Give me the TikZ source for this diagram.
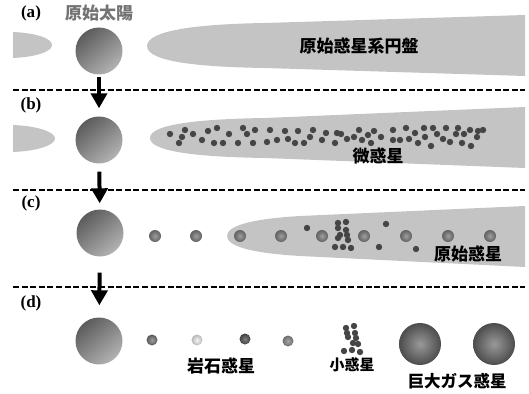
\documentclass[tikz,border=0pt]{standalone}
\usepackage{fontspec}
\setmainfont{Liberation Serif}
\newfontfamily\jp{Noto Sans CJK JP}
\usetikzlibrary{arrows.meta,shadings}

\begin{document}
\begin{tikzpicture}[
    x=1pt, y=-1pt,
    every node/.style={inner sep=0pt},
    stage/.style={font=\fontsize{17}{17}\selectfont\bfseries},
    jlabel/.style={font=\jp\fontsize{17}{17}\selectfont\bfseries},
    sun/.style={circle, minimum size=47pt, top color=black!64, bottom color=black!30, shading angle=40},
    disk/.style={fill=black!23},
    dot/.style={fill=black!73},
    planet/.style={inner color=black!38, outer color=black!62},
    giant/.style={inner color=black!40, outer color=black!70},
    sep/.style={line width=1.6pt, dash pattern=on 6pt off 2.6pt},
    arrow/.style={-{Triangle[length=15pt,width=16pt]}, line width=4pt},
]
\useasboundingbox (0,0) rectangle (529,393);

% (a) proto-sun and disk
\node[stage] (la) at (31,13) {(a)};
\node[jlabel, text=black!55] (protosun) at (99,13) {原始太陽};
\fill[disk] (13,32) .. controls (35,33) and (52,38) .. (52,45) .. controls (52,52) and (35,57) .. (13,58) -- cycle;
\fill[disk] (147,46) .. controls (147,30) and (200,24) .. (265,23) -- (525,15) -- (525,76) -- (265,68) .. controls (200,67) and (147,62) .. cycle;
\node[sun] (sunA) at (99,51) {};
\node[jlabel] (diskA) at (359,46) {原始惑星系円盤};
\draw[sep] (13,90) -- (525,90);

% (b) planetesimals
\node[stage] (lb) at (31,105) {(b)};
\fill[disk] (13,125) .. controls (38,126) and (55,132) .. (55,138.5) .. controls (55,145) and (38,151) .. (13,152) -- cycle;
\fill[disk] (150,138) .. controls (150,124) and (200,119) .. (265,118) -- (525,107) -- (525,168) -- (265,158) .. controls (200,157) and (150,152) .. cycle;
\node[sun] (sunB) at (99,140) {};
\foreach \px/\py in {170/134,179/143,182/137,185/130,193/134,202/140,208/131,217/128,214/143,223/143,
    229/134,238/143,243/128,247/134,253/143,255/130,270/130,267/142,277/140,285/131,288/139,295/143,
    298/131,304/143,310/137,313/130,322/140,326/133,335/143,337/133,341/134,347/139,354/137,359/130,
    362/140,368/135,371/143,374/131,381/137,393/130,393/140,400/140,406/128,409/139,415/133,418/143,
    424/128,425/137,431/146,433/128,437/134,443/139,446/128,450/142,456/134,458/128,462/143,464/134,
    470/130,471/146,477/137,478/131,483/130}
  \fill[dot] (\px,\py) circle (3.2pt);
\node[jlabel] (pla) at (378,156) {微惑星};
\draw[sep] (13,190) -- (525,190);

% (c) protoplanets
\node[stage] (lc) at (31,203) {(c)};
\fill[disk] (227,236) .. controls (227,226) and (250,219) .. (300,216) -- (525,206) -- (525,267) -- (300,256) .. controls (250,253) and (227,246) .. cycle;
\node[sun] (sunC) at (100,233) {};
\foreach \px in {155,196,240,281,322,364,406,448,490}
  \shade[planet] (\px,236) circle (6pt);
\foreach \px/\py in {307/228,386/224,379/247,416/249,338/223,346/222,338/228,346/230,340/235,
    347/235,338/238,348/240,335/247,343/247,351/248}
  \fill[dot] (\px,\py) circle (3.2pt);
\node[jlabel] (proto) at (468,254) {原始惑星};
\draw[sep] (13,287) -- (525,287);

% (d) planetary system
\node[stage] (ld) at (31,303) {(d)};
\node[sun] (sunD) at (99,341) {};
\shade[inner color=black!38, outer color=black!65] (152,340) circle (5.5pt);
\shade[inner color=black!4, outer color=black!28] (197,340) circle (5.5pt);
\shade[inner color=black!50, outer color=black!75] (245,339) circle (5.5pt);
\shade[inner color=black!35, outer color=black!58] (288,341) circle (5.5pt);
\foreach \px/\py in {346/328,354/326,347/333,355/333,348/337,356/338,353/343,358/344,344/351,352/350,360/352}
  \fill[dot] (\px,\py) circle (3.2pt);
\shade[giant] (420,344) circle (21pt);
\shade[giant] (494,344) circle (21pt);
\node[jlabel] (rocky) at (221,366) {岩石惑星};
\node[jlabel, font=\jp\fontsize{15}{15}\selectfont\bfseries] (aster) at (352,365) {小惑星};
\node[jlabel, font=\jp\fontsize{16.5}{16.5}\selectfont\bfseries] (gas) at (457,381) {巨大ガス惑星};

\draw[arrow, shorten <=2pt, shorten >=8pt] (sunA) -- (sunB);
\draw[arrow, shorten <=8pt, shorten >=6pt] (sunB) -- (sunC);
\draw[arrow, shorten <=16pt, shorten >=12pt] (sunC) -- (sunD);
\end{tikzpicture}
\end{document}
